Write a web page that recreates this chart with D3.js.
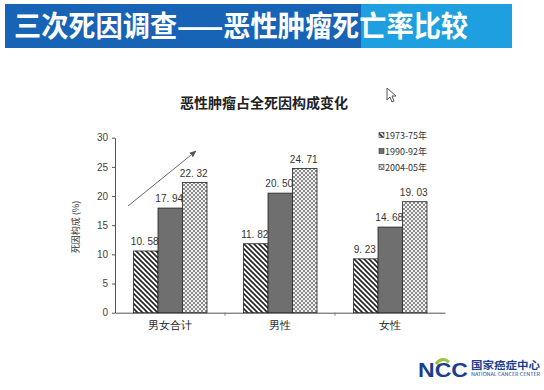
<!DOCTYPE html>
<html>
<head>
<meta charset="utf-8">
<script src="https://cdn.jsdelivr.net/npm/d3@7"></script>
<style>
body { margin: 0; background: #fff; }
svg { display: block; font-family: "Noto Sans CJK SC", "Noto Sans", sans-serif; }
</style>
</head>
<body>
<svg id="plot" width="544" height="390"></svg>
<script>
const categories = ['男女合计', '男性', '女性'];
const seriesNames = ['1973-75年', '1990-92年', '2004-05年'];
const values1973 = [10.58, 11.82, 9.23];
const values1990 = [17.94, 20.50, 14.68];
const values2004 = [22.32, 24.71, 19.03];
const yTicks = [0, 5, 10, 15, 20, 25, 30];

const series = [values1973, values1990, values2004];
const fills = ['url(#hatch)', '#6f6f6f', 'url(#checker)'];

const svg = d3.select('#plot');
const defs = svg.append('defs');

// diagonal hatch for the first period
const hatch = defs.append('pattern')
  .attr('id', 'hatch')
  .attr('patternUnits', 'userSpaceOnUse')
  .attr('width', 5)
  .attr('height', 5);
hatch.append('rect').attr('width', 5).attr('height', 5).attr('fill', '#fff');
hatch.append('path')
  .attr('d', 'M-1,4 l2,2 M0,0 l5,5 M4,-1 l2,2')
  .attr('stroke', '#222')
  .attr('stroke-width', 1.6);

// fine checker for the last period
const checker = defs.append('pattern')
  .attr('id', 'checker')
  .attr('patternUnits', 'userSpaceOnUse')
  .attr('width', 4)
  .attr('height', 4);
checker.append('rect').attr('width', 4).attr('height', 4).attr('fill', '#f2f2f2');
checker.append('rect').attr('width', 2).attr('height', 2).attr('fill', '#8a8a8a');
checker.append('rect').attr('x', 2).attr('y', 2).attr('width', 2).attr('height', 2).attr('fill', '#8a8a8a');

// header banner
svg.append('rect')
  .attr('x', 5).attr('y', 4).attr('width', 507).attr('height', 44)
  .attr('fill', '#1d9fe0');
svg.append('rect')
  .attr('x', 5).attr('y', 4).attr('width', 356).attr('height', 44)
  .attr('fill', '#1763b6');
svg.append('text')
  .attr('x', 14)
  .attr('y', 37)
  .attr('fill', '#fff')
  .attr('font-size', 29)
  .attr('font-weight', 'bold')
  .attr('textLength', 454)
  .attr('lengthAdjust', 'spacingAndGlyphs')
  .text('三次死因调查——恶性肿瘤死亡率比较');

// chart title
svg.append('text')
  .attr('x', 264)
  .attr('y', 108)
  .attr('text-anchor', 'middle')
  .attr('font-size', 14)
  .attr('font-weight', 'bold')
  .attr('fill', '#222')
  .text('恶性肿瘤占全死因构成变化');

const x0 = d3.scaleBand()
  .domain(categories)
  .range([115, 445])
  .padding(0);

const x1 = d3.scaleBand()
  .domain(d3.range(series.length))
  .range([18.5, x0.bandwidth() - 18])
  .padding(0);

const y = d3.scaleLinear()
  .domain([0, 30])
  .range([312.7, 137.7]);

// y axis
const yAxis = svg.append('g')
  .attr('transform', 'translate(115,0)')
  .call(d3.axisLeft(y).tickValues(yTicks).tickSize(3).tickSizeOuter(0));
yAxis.select('.domain').attr('stroke', '#555');
yAxis.selectAll('line').attr('stroke', '#555');
yAxis.selectAll('text').attr('font-size', 10).attr('fill', '#444').attr('x', -7)
  .attr('font-family', 'Arial, "Liberation Sans", sans-serif');

// x axis
const xAxis = svg.append('g')
  .attr('transform', 'translate(0,312.7)')
  .call(d3.axisBottom(x0).tickSize(0).tickPadding(9));
xAxis.select('.domain').attr('stroke', '#555');
xAxis.selectAll('text').attr('font-size', 11).attr('fill', '#222');
xAxis.selectAll('.sep')
  .data(categories.slice(1))
  .enter()
  .append('line')
  .attr('x1', (c) => x0(c))
  .attr('x2', (c) => x0(c))
  .attr('y1', 0)
  .attr('y2', 3)
  .attr('stroke', '#777');

// y label
svg.append('text')
  .attr('transform', 'translate(79,227) rotate(-90)')
  .attr('text-anchor', 'middle')
  .attr('font-size', 9)
  .attr('fill', '#333')
  .text('死因构成 (%)');

// bars
const groups = svg.selectAll('.group')
  .data(categories)
  .enter()
  .append('g')
  .attr('class', 'group')
  .attr('transform', (c) => `translate(${x0(c)},0)`);

groups.selectAll('rect')
  .data((c, ci) => series.map((s, si) => ({ si: si, v: s[ci] })))
  .enter()
  .append('rect')
  .attr('x', (d) => x1(d.si))
  .attr('y', (d) => y(d.v))
  .attr('width', x1.bandwidth())
  .attr('height', (d) => y(0) - y(d.v))
  .attr('fill', (d) => fills[d.si])
  .attr('stroke', '#222')
  .attr('stroke-width', 0.8);

groups.selectAll('.value')
  .data((c, ci) => series.map((s, si) => ({ si: si, v: s[ci] })))
  .enter()
  .append('text')
  .attr('class', 'value')
  .attr('x', (d) => x1(d.si) + x1.bandwidth() / 2 - 1)
  .attr('y', (d) => y(d.v) - 6)
  .attr('text-anchor', 'middle')
  .attr('font-size', 10)
  .attr('fill', '#333')
  .attr('font-family', 'Arial, "Liberation Sans", sans-serif')
  .text((d) => d.v.toFixed(2).replace('.', '. '));

// trend arrow
defs.append('marker')
  .attr('id', 'head')
  .attr('viewBox', '0 0 10 10')
  .attr('refX', 9).attr('refY', 5)
  .attr('markerWidth', 7).attr('markerHeight', 7)
  .attr('orient', 'auto')
  .append('path')
  .attr('d', 'M0,1 L10,5 L0,9 Z')
  .attr('fill', '#555');
svg.append('line')
  .attr('x1', 128).attr('y1', 206)
  .attr('x2', 196).attr('y2', 151)
  .attr('stroke', '#666')
  .attr('stroke-width', 1)
  .attr('marker-end', 'url(#head)');

// legend
const legend = svg.selectAll('.legend')
  .data(seriesNames)
  .enter()
  .append('g')
  .attr('class', 'legend')
  .attr('transform', (d, i) => `translate(381,${135.5 + i * 16})`);
legend.append('rect')
  .attr('x', -2).attr('y', -3)
  .attr('width', 5).attr('height', 5)
  .attr('fill', (d, i) => fills[i])
  .attr('stroke', '#333')
  .attr('stroke-width', 0.6);
legend.append('text')
  .attr('x', 4)
  .attr('y', 3.5)
  .attr('font-size', 9)
  .attr('fill', '#333')
  .text((d) => d);

// mouse pointer
svg.append('path')
  .attr('d', 'M387,88 L387,100 L390,97 L392,102 L394,101 L392,96 L396,96 Z')
  .attr('fill', '#fff')
  .attr('stroke', '#555')
  .attr('stroke-width', 1);

// NCC logo
const logo = svg.append('g');
logo.append('text')
  .attr('x', 418).attr('y', 377)
  .attr('font-size', 20)
  .attr('font-weight', 'bold')
  .attr('fill', '#1b3f8f')
  .attr('font-family', 'Arial, "Liberation Sans", sans-serif')
  .attr('textLength', 50)
  .attr('lengthAdjust', 'spacingAndGlyphs')
  .text('NCC');
logo.append('path')
  .attr('d', 'M436,364 Q442,356 449,362')
  .attr('fill', 'none')
  .attr('stroke', '#9cc43a')
  .attr('stroke-width', 3);
logo.append('text')
  .attr('x', 471).attr('y', 369)
  .attr('font-size', 10.5)
  .attr('font-weight', 'bold')
  .attr('fill', '#1b3f8f')
  .attr('textLength', 69)
  .attr('lengthAdjust', 'spacingAndGlyphs')
  .text('国家癌症中心');
logo.append('text')
  .attr('x', 471).attr('y', 376)
  .attr('font-size', 4.5)
  .attr('fill', '#1b3f8f')
  .attr('textLength', 69)
  .attr('lengthAdjust', 'spacingAndGlyphs')
  .text('NATIONAL CANCER CENTER');
</script>
</body>
</html>
